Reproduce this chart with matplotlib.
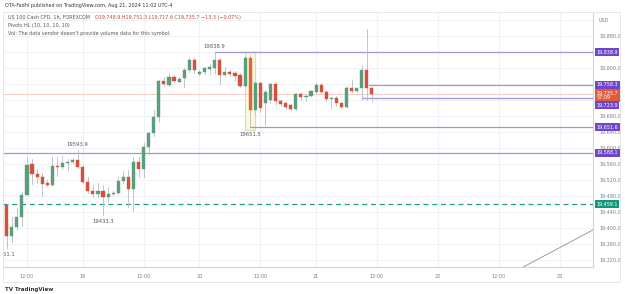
import numpy as np
import matplotlib.pyplot as plt
from matplotlib.patches import Rectangle

# hourly candles, US100 CFD, Aug 16 08:00 .. Aug 21 11:00 (UTC-4)
opens = [19457, 19380, 19402, 19428, 19482, 19559, 19534, 19528, 19512, 19508,
         19555, 19553, 19562, 19566, 19569, 19553, 19516, 19492, 19484, 19492,
         19478, 19484, 19488, 19518, 19528, 19498, 19566, 19547, 19603, 19638,
         19677, 19768, 19758, 19777, 19766, 19774, 19795, 19820, 19784, 19791,
         19797, 19801, 19820, 19783, 19791, 19788, 19782, 19756, 19826, 19695,
         19762, 19713, 19720, 19760, 19718, 19712, 19707, 19697, 19734, 19727,
         19731, 19741, 19758, 19741, 19722, 19725, 19713, 19703, 19751, 19742,
         19749, 19795, 19748.9]
highs = [19460, 19427, 19450, 19490, 19577, 19572, 19547, 19537, 19520, 19578,
         19578, 19580, 19572, 19575, 19593.9, 19557, 19528, 19507, 19512, 19507,
         19503, 19492, 19528, 19543, 19545, 19578, 19578, 19612, 19641, 19695,
         19770, 19778, 19788, 19782, 19778, 19801, 19824, 19824, 19795, 19803,
         19809, 19838.9, 19824, 19803, 19796, 19792, 19787, 19831, 19832, 19765,
         19765, 19745, 19762, 19764, 19720, 19715, 19710, 19737, 19738, 19733,
         19745, 19762, 19762, 19744, 19728, 19730, 19715, 19754, 19770, 19751,
         19807, 19897, 19751.3]
lows = [19351.1, 19366, 19395, 19405, 19482, 19509, 19512, 19480, 19505, 19505,
        19530, 19547, 19545, 19562, 19550, 19512, 19487, 19478, 19478, 19433.3,
        19466, 19482, 19484, 19512, 19453, 19442, 19528, 19528, 19585, 19630,
        19664, 19756, 19755, 19766, 19764, 19753, 19791, 19787, 19782, 19784,
        19784, 19787, 19759, 19779, 19780, 19770, 19753, 19753, 19651.5, 19685,
        19690, 19657, 19712, 19708, 19705, 19700, 19694, 19694, 19720, 19717,
        19729, 19737, 19738, 19718, 19697, 19706, 19700, 19700, 19740, 19740,
        19720, 19720, 19717.6]
closes = [19380, 19402, 19428, 19482, 19557, 19534, 19528, 19509, 19508, 19555,
          19553, 19562, 19566, 19569, 19553, 19516, 19492, 19484, 19492, 19478,
          19484, 19488, 19518, 19528, 19498, 19566, 19547, 19603, 19638, 19678,
          19768, 19759, 19777, 19768, 19773, 19795, 19820, 19795, 19791, 19799,
          19802, 19820, 19783, 19791, 19786, 19780, 19756, 19824, 19695, 19762,
          19700, 19740, 19760, 19718, 19710, 19703, 19697, 19734, 19727, 19731,
          19743, 19758, 19741, 19722, 19725, 19712, 19703, 19751, 19742, 19749,
          19795, 19749, 19735.7]

# time axis (bar index -> label); 23 bars/day in history, 24/day projected
tick_idx = [4, 15, 27, 38, 50, 61, 73, 85, 97, 109]
tick_lbl = ["12:00", "19", "12:00", "20", "12:00", "21", "12:00", "22", "12:00", "23"]
price_ticks = [19880, 19800, 19680, 19640, 19600, 19560, 19520, 19480, 19440, 19400, 19360, 19320]

# pivot levels: (price, start bar)
pivot_lines = [(19838.9, 41), (19758.3, 71.5), (19723.9, 70), (19651.6, 48), (19588.1, -1)]
pivot_labels = [(14, 19593.9, "19593.9", "top"), (41, 19838.9, "19838.9", "top"),
                (48, 19651.5, "19651.5", "bottom"), (19, 19433.3, "19433.3", "bottom"),
                (-0.45, 19351.1, "19351.1", "bottom")]
last_price = 19735.7
green_level = 19459.1
trend_x = [100, 120]
trend_y = [19290, 19425]

UP, DOWN = "#5c9e7b", "#d8503a"
WICK = "#b8bbc2"
PURPLE = "#a393dc"
LABEL_PURPLE = "#6f45c9"
GRID = "#f1f2f5"
TXT = "#7a7d85"
FS = 3.5

fig = plt.figure(figsize=(6.25, 2.94), dpi=100)
ax = fig.add_axes([3 / 625, 1 - 267 / 294, 590 / 625, 254 / 294])
ax.set_xlim(-0.73, 115.6)
ax.set_ylim(19302.5, 19937.5)

for t in tick_idx:
    ax.axvline(t, color=GRID, lw=0.8, zorder=0)
for p in range(19320, 19940, 40):
    ax.axhline(p, color=GRID, lw=0.8, zorder=0)

# highlight box around the pivot low candle
ax.add_patch(Rectangle((47.0, 19645), 2.0, 19841 - 19645, facecolor="#fbf8dc",
                       edgecolor="#cfe3b8", lw=0.8, zorder=1))

for p, start in pivot_lines:
    ax.plot([start, 115.6], [p, p], color=PURPLE, lw=0.9, zorder=2)
ax.axhline(last_price, color="#f6c9c4", lw=0.7, zorder=1)
ax.axhline(green_level, color="#1a9d80", lw=0.9, ls=(0, (4, 3)), zorder=2)
ax.plot(trend_x, trend_y, color="#8a8d94", lw=0.6, zorder=2)

w = 0.62
for i, (o, h, l, c) in enumerate(zip(opens, highs, lows, closes)):
    col = UP if c >= o else DOWN
    if i == 48:
        col = "#e0663a"
    ax.plot([i, i], [l, h], color=WICK, lw=0.6, zorder=3)
    ax.add_patch(Rectangle((i - w / 2, min(o, c)), w, max(abs(c - o), 1.2),
                           facecolor=col, edgecolor=col, lw=0.3, zorder=4))

for x, p, s, pos in pivot_labels:
    dy = 9 if pos == "top" else -11
    bb = dict(boxstyle="square,pad=0.3", fc="white", ec="none") if s == "19433.3" else None
    ax.text(x, p + dy, s, fontsize=3.8, color="#55585f", ha="center",
            va="bottom" if pos == "top" else "top", zorder=6, bbox=bb, clip_on=True)

ax.set_xticks(tick_idx)
ax.set_xticklabels(tick_lbl)
ax.yaxis.tick_right()
ax.set_yticks(price_ticks)
ax.set_yticklabels(["{:,.1f}".format(v) for v in price_ticks])
ax.tick_params(axis="both", labelsize=FS, colors=TXT, length=0, pad=5)
for side in ["top", "left"]:
    ax.spines[side].set_visible(False)
ax.spines["right"].set_color("#d1d4dc")
ax.spines["bottom"].set_color("#d1d4dc")


# price scale labels
def price_tag(y, txt, fc):
    ax.annotate(txt, xy=(1.0, y), xycoords=("axes fraction", "data"),
                xytext=(2.5, 0), textcoords="offset points", fontsize=FS,
                color="white", va="center", ha="left", zorder=10, annotation_clip=False,
                bbox=dict(boxstyle="square,pad=0.3", fc=fc, ec="none"))


price_tag(19838.9, "19,838.9", LABEL_PURPLE)
price_tag(19758.3, "19,758.3", LABEL_PURPLE)
ax.annotate("19,735.7\n57:09", xy=(1.0, last_price - 4), xycoords=("axes fraction", "data"),
            xytext=(2.5, 0), textcoords="offset points", fontsize=FS, color="white",
            va="center", ha="left", zorder=10, annotation_clip=False, linespacing=1.0,
            bbox=dict(boxstyle="square,pad=0.3", fc="#e35a3a", ec="none"))
price_tag(19707, "19,723.9", LABEL_PURPLE)
price_tag(19651.6, "19,651.6", LABEL_PURPLE)
price_tag(19588.1, "19,588.1", LABEL_PURPLE)
price_tag(green_level, "19,459.1", "#13977c")

fig.text(604 / 625, 1 - 20 / 294, "USD", fontsize=FS, color=TXT, ha="center", va="center")

# header
fig.text(5 / 625, 1 - 5 / 294, "OTA-Fadhl published on TradingView.com, Aug 21, 2024 11:02 UTC-4",
         fontsize=FS, color="#333", va="center")
fig.text(8 / 625, 1 - 17 / 294, "US 100 Cash CFD, 1h, FOREXCOM", fontsize=FS, color="#555",
         va="center")
fig.text(95 / 625, 1 - 17 / 294, "O19,748.9 H19,751.3 L19,717.6 C19,735.7 \u221213.3 (\u22120.07%)",
         fontsize=FS, color="#c2443a", va="center")
fig.text(8 / 625, 1 - 25 / 294, "Pivots HL (10, 10, 10, 10)", fontsize=FS, color="#555", va="center")
fig.text(8 / 625, 1 - 33 / 294, "Vol: The data vendor doesn't provide volume data for this symbol.",
         fontsize=FS, color="#555", va="center")
fig.text(5 / 625, 1 - 290 / 294, "TV TradingView", fontsize=4, color="#333", va="center",
         fontweight="bold")

# chart frame
fig.add_artist(Rectangle((3 / 625, 1 - 282 / 294), 617 / 625, 270 / 294, transform=fig.transFigure,
                         fill=False, ec="#e0e3eb", lw=0.6))

fig.savefig("out.png", dpi=100, facecolor="white")
